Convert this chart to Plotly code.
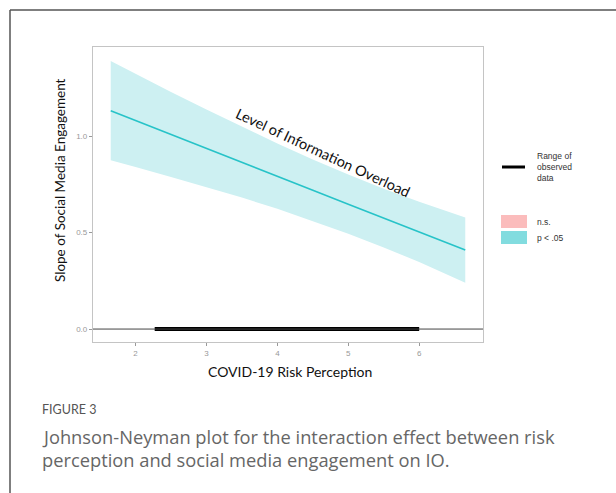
import plotly.graph_objects as go

# ---- data ----
risk = [1.65, 2.0, 2.5, 3.0, 3.5, 4.0, 4.5, 5.0, 5.5, 6.0, 6.65]
slope = [1.131, 1.080, 1.008, 0.936, 0.864, 0.792, 0.719, 0.647, 0.575, 0.503, 0.409]
ci_upper = [1.388, 1.321, 1.228, 1.137, 1.048, 0.961, 0.878, 0.800, 0.727, 0.660, 0.578]
ci_lower = [0.874, 0.839, 0.788, 0.735, 0.681, 0.623, 0.560, 0.494, 0.423, 0.347, 0.240]
observed_range = [2.27, 6.00]
x_ticks = [2, 3, 4, 5, 6]
y_ticks = [0.0, 0.5, 1.0]
y_tick_labels = ["0.0", "0.5", "1.0"]

W, H = 616, 493
def px(x):
    return x / W
def py(y):
    return 1 - y / H

band_fill = "#cdf0f2"
line_col = "#27c3c8"
font_main = "Lato"

fig = go.Figure()
fig.add_trace(go.Scatter(x=risk + risk[::-1], y=ci_upper + ci_lower[::-1],
                         fill="toself", fillcolor=band_fill, mode="lines",
                         line=dict(width=0), hoverinfo="skip", showlegend=False))
fig.add_trace(go.Scatter(x=risk, y=slope, mode="lines",
                         line=dict(color=line_col, width=1.6), showlegend=False))
# zero line
fig.add_shape(type="line", xref="x domain", yref="y", x0=0, x1=1, y0=0, y1=0,
              line=dict(color="#444444", width=1))
fig.add_trace(go.Scatter(x=observed_range, y=[0, 0], mode="lines",
                         line=dict(color="black", width=4), showlegend=False))

fig.add_annotation(x=4.64, y=0.915, xref="x", yref="y", text="Level of Information Overload",
                   showarrow=False, textangle=25, xanchor="center", yanchor="middle",
                   font=dict(family=font_main, size=14.5, color="#111111"))

fig.update_xaxes(domain=[px(93), px(483)], range=[1.40, 6.90], tickvals=x_ticks,
                 ticks="outside", ticklen=3, tickcolor="#999999", tickwidth=1,
                 tickfont=dict(family="Liberation Sans", size=8, color="#999999"),
                 showgrid=False, zeroline=False, showline=True, mirror=True,
                 linecolor="#c4c4c4", linewidth=1.2)
fig.update_yaxes(domain=[py(342), py(47)], range=[-0.067, 1.461], tickvals=y_ticks,
                 ticktext=y_tick_labels,
                 ticks="outside", ticklen=3, tickcolor="#999999", tickwidth=1,
                 tickfont=dict(family="Liberation Sans", size=8, color="#999999"),
                 showgrid=False, zeroline=False, showline=True, mirror=True,
                 linecolor="#c4c4c4", linewidth=1.2)

def note(x, y, text, size, color, family=font_main, xanchor="center", angle=0, align="center"):
    fig.add_annotation(x=px(x), y=py(y), xref="paper", yref="paper", text=text,
                       showarrow=False, xanchor=xanchor, yanchor="middle", textangle=angle,
                       align=align, font=dict(family=family, size=size, color=color))

# axis titles
note(60, 180, "Slope of Social Media Engagement", 13.5, "#111111", angle=-90)
note(290, 371, "COVID-19 Risk Perception", 14, "#111111")

# legend
fig.add_shape(type="line", xref="paper", yref="paper", x0=px(502), x1=px(525),
              y0=py(167), y1=py(167), line=dict(color="black", width=3))
note(535, 167, "Range of<br>observed<br>data", 8.5, "#333333", family="Liberation Sans",
     xanchor="left", align="left")
fig.add_shape(type="rect", xref="paper", yref="paper", x0=px(501), x1=px(527),
              y0=py(228), y1=py(215), fillcolor="#fbbcbc", line=dict(width=0))
fig.add_shape(type="rect", xref="paper", yref="paper", x0=px(501), x1=px(527),
              y0=py(244), y1=py(231), fillcolor="#82dcdf", line=dict(width=0))
note(535, 222, "n.s.", 8.5, "#333333", family="Liberation Sans", xanchor="left")
note(535, 238, "p < .05", 8.5, "#333333", family="Liberation Sans", xanchor="left")

# card border
fig.add_shape(type="line", xref="paper", yref="paper", x0=px(10), x1=px(10),
              y0=0, y1=py(10), line=dict(color="#555555", width=1.5))
fig.add_shape(type="line", xref="paper", yref="paper", x0=px(10), x1=1,
              y0=py(10), y1=py(10), line=dict(color="#555555", width=1.5))

# caption
note(40, 409, "FIGURE 3", 12.5, "#555555", xanchor="left")
note(40, 436, "Johnson-Neyman plot for the interaction effect between risk", 18.3, "#666666",
     family="Open Sans", xanchor="left")
note(40, 459, "perception and social media engagement on IO.", 18.3, "#666666",
     family="Open Sans", xanchor="left")

fig.update_layout(width=W, height=H, margin=dict(l=0, r=0, t=0, b=0),
                  paper_bgcolor="white", plot_bgcolor="white", showlegend=False)

fig.write_html("out.html", config={"displayModeBar": False},
               post_script="document.body.style.margin='0';document.body.style.overflow='hidden';")
